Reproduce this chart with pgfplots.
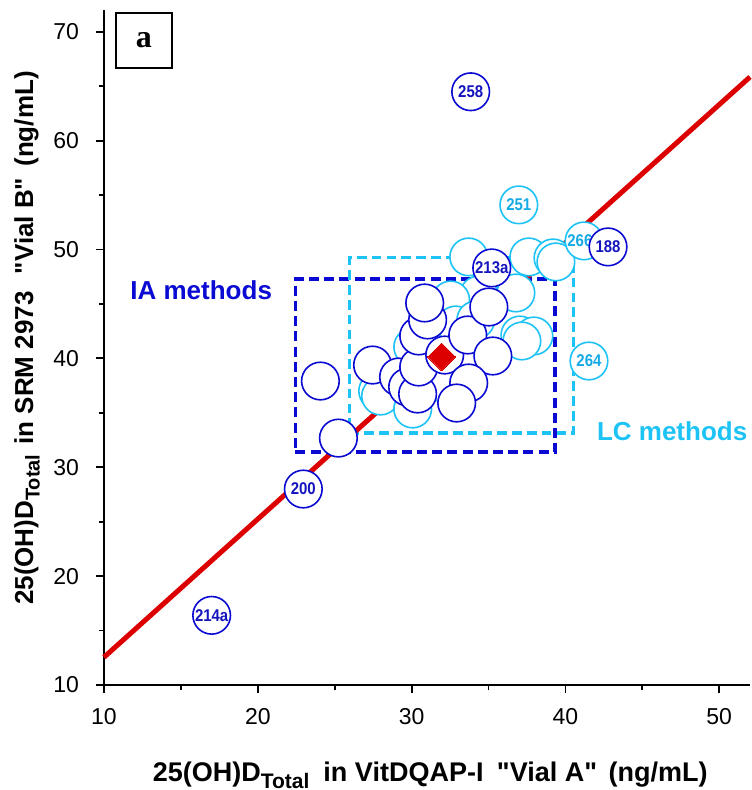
\documentclass[border=0pt]{standalone}
\usepackage{pgfplots}
\pgfplotsset{compat=1.18}
\usepackage{fontspec}
\setmainfont{Liberation Sans}[Ligatures=TeXOff]
\newfontfamily\serifb{Liberation Serif}
\definecolor{iablue}{RGB}{10,10,210}
\definecolor{iatext}{RGB}{20,20,190}
\definecolor{lccyan}{RGB}{30,195,245}
\definecolor{lctext}{RGB}{20,170,230}
\definecolor{myred}{RGB}{220,0,0}
\newcommand{\sub}{\raisebox{-3.5pt}{\fontsize{10.5}{11}\selectfont Total}}
\newcommand{\suby}{\raisebox{-3.3pt}{\fontsize{10}{11}\selectfont Total}}
\newcommand{\clab}[1]{\scalebox{0.88}[1]{#1}}
\begin{document}
\begin{tikzpicture}
\begin{axis}[
  scale only axis, width=323pt, height=337.5pt,
  xmin=10, xmax=52, ymin=10, ymax=72,
  axis x line*=bottom, axis y line*=left,
  axis line style={line width=0.9pt,-},
  xtick={10,20,...,50}, ytick={10,20,...,70},
  minor xtick={15,25,35,45}, minor ytick={15,25,...,65},
  tick align=outside, major tick length=4pt, minor tick length=2.7pt,
  every tick/.style={line width=0.9pt, black},
  tick label style={font=\fontsize{11.5}{12}\selectfont},
  xticklabel style={yshift=-4pt},
  yticklabel style={xshift=-5pt},
  /pgf/number format/assume math mode=true,
  clip=false,
  every axis x label/.style={at={(axis description cs:0.505,0)}, yshift=-45pt, anchor=center},
  every axis y label/.style={at={(axis description cs:0,0.514)}, xshift=-38.5pt, rotate=90, anchor=center},
  xlabel={\bfseries\fontsize{13.5}{14}\selectfont 25(OH)D\sub\hspace{7pt}in VitDQAP-I\hspace{3pt} "Vial A"\hspace{2pt} (ng/mL)},
  ylabel={\bfseries\fontsize{13}{14}\selectfont 25(OH)D\suby\hspace{5pt}in SRM 2973\hspace{5pt} "Vial B"\hspace{2pt} (ng/mL)},
]
\coordinate (bbsw) at (rel axis cs:0,0);
\coordinate (bbne) at (rel axis cs:1,1);
% method boxes
\addplot[iablue, line width=1.6pt, dash pattern=on 5pt off 2.6pt] coordinates {(22.44,31.40) (39.32,31.40) (39.32,47.30) (22.44,47.30) (22.44,31.40)};
\addplot[lccyan, line width=1.6pt, dash pattern=on 4.8pt off 2.6pt] coordinates {(25.96,33.14) (40.55,33.14) (40.55,49.23) (25.96,49.23) (25.96,33.14)};
% reference line
\addplot[myred, line width=2.5pt] coordinates {(10,12.55) (52,65.85)};
% LC circles
\addplot[only marks, mark=*, mark size=9.4pt, mark options={draw=lccyan, fill=white, line width=0.8pt}] coordinates {
(33.71,49.32) (37.62,49.32) (39.19,49.23) (39.38,48.86)
(34.36,45.83) (36.78,46.01) (32.54,45.37) (32.87,43.07) (34.17,43.53)
(37.04,42.15) (37.95,42.06) (37.17,41.60)
(27.79,37.00) (27.98,36.54) (30.07,35.35) (32.21,37.65) (30.07,41.05)
};
\addplot[only marks, mark=*, mark size=9.4pt, mark options={draw=lccyan, fill=white, line width=0.8pt},
  point meta=explicit symbolic, nodes near coords={\clab{\pgfplotspointmeta}},
  every node near coord/.append style={anchor=center, inner sep=0pt, text=lctext, font=\bfseries\fontsize{8.5}{9}\selectfont}] coordinates {
(36.97,54.10) [251] (41.21,50.79) [266a] (41.53,39.76) [264]
};
% IA circles
\addplot[only marks, mark=*, mark size=9.4pt, mark options={draw=iablue, fill=white, line width=0.8pt}] coordinates {
(24.07,37.92) (25.24,32.68) (27.46,39.39) (29.15,38.29) (29.74,37.37) (30.39,36.73)
(30.46,39.21) (30.46,42.06) (31.04,43.53) (30.85,45.09)
(32.15,40.31) (33.65,42.15) (35.02,44.72) (35.28,40.22) (33.71,37.74) (32.93,35.90)
};
\addplot[only marks, mark=*, mark size=9.4pt, mark options={draw=iablue, fill=white, line width=0.8pt},
  point meta=explicit symbolic, nodes near coords={\clab{\pgfplotspointmeta}},
  every node near coord/.append style={anchor=center, inner sep=0pt, text=iatext, font=\bfseries\fontsize{8.5}{9}\selectfont}] coordinates {
(33.84,64.49) [258] (42.77,50.24) [188] (35.21,48.31) [213a] (22.96,28.00) [200] (17.0,16.4) [214a]
};
% target value
\addplot[only marks, mark=square*, mark size=4.9pt, mark options={rotate=45, fill=myred, draw=myred, line width=0pt}] coordinates {(31.95,40.13)};
% annotations
\node[font=\bfseries\fontsize{13}{14}\selectfont, text=iablue] at (axis cs:16.32,46.29) {IA methods};
\node[font=\bfseries\fontsize{13}{14}\selectfont, text=lccyan] at (axis cs:46.94,33.33) {LC methods};
\node[draw, line width=1.3pt, minimum width=28pt, minimum height=27.5pt, inner sep=0pt, font=\serifb\bfseries\fontsize{16}{16}\selectfont] at (axis cs:12.6,69.2) {a};
\end{axis}
\pgfresetboundingbox
\path[use as bounding box] ([xshift=-52pt,yshift=-52.5pt]bbsw) rectangle ([xshift=0.5pt,yshift=5pt]bbne);
\end{tikzpicture}
\end{document}
